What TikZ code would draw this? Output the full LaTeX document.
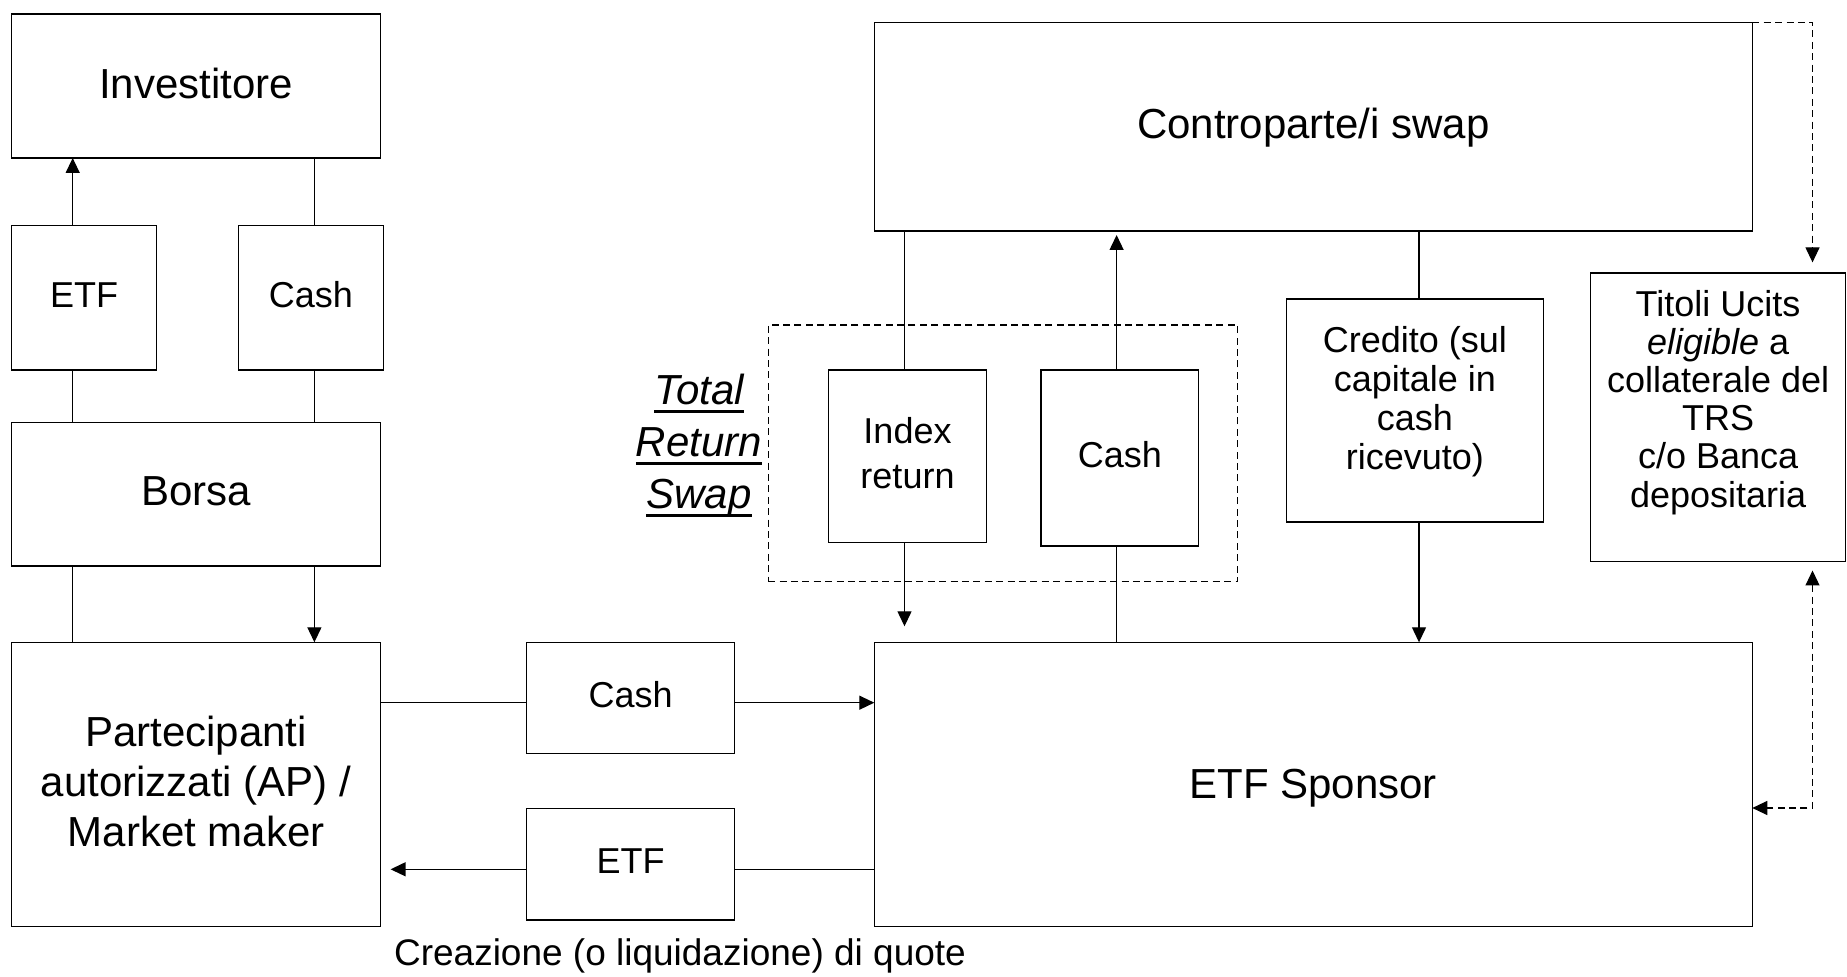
\documentclass[tikz,border=0pt]{standalone}
\usepackage{fontspec}
\setmainfont{Liberation Sans}
\usetikzlibrary{arrows.meta,fit}
\newcommand{\fbig}{\fontsize{21}{25}\selectfont}
\newcommand{\fmid}{\fontsize{18}{22.5}\selectfont}
\newcommand{\fsm}{\fontsize{18}{19.5}\selectfont}
\newcommand{\ftit}{\fontsize{18}{19.1}\selectfont}
\newcommand{\myul}[1]{\setbox0\hbox{#1}\rlap{\rule[-4.2pt]{\wd0}{1.6pt}}\box0}
\begin{document}
\begin{tikzpicture}[x=0.5pt,y=-0.5pt,
  box/.style={draw, line width=0.65pt, inner sep=0pt, outer sep=0pt},
  txt/.style={inner sep=0pt, align=center, yshift=1.5pt},
  dbox/.style={draw, line width=0.6pt, dash pattern=on 3.5pt off 2.2pt, inner sep=0pt, outer sep=0pt},
  ln/.style={draw, line width=0.65pt},
  arr/.style={ln, -{Triangle[length=7.5pt,width=7pt]}},
  darr/.style={draw, line width=0.6pt, dash pattern=on 3.5pt off 2.2pt}]
\useasboundingbox (0,0) rectangle (1847,977);

% lanes
\coordinate (xA) at (72.7,0);
\coordinate (xB) at (314.4,0);
\coordinate (yC) at (0,702.7);
\coordinate (yE) at (0,869.3);
\coordinate (xI) at (904.5,0);
\coordinate (xT) at (1116.6,0);
\coordinate (xK) at (1419,0);
\coordinate (xD) at (1812.5,0);
\coordinate (yD) at (0,808);

% boxes
\node[box, fit={(11.7,14) (380.7,158)}] (inv) {};
\node[box, fit={(11.7,225.7) (156.7,370)}] (etf1) {};
\node[box, fit={(238.7,225.7) (383.3,370)}] (cash1) {};
\node[box, fit={(11.7,422.3) (380.5,566)}] (borsa) {};
\node[box, fit={(11.5,642.3) (380.6,926.7)}] (ap) {};
\node[box, fit={(526.4,642.3) (734.8,753.7)}] (cashm) {};
\node[box, fit={(526.4,808.3) (734.8,920)}] (etfm) {};
\node[box, fit={(874.3,642.3) (1752.3,926.7)}] (spon) {};
\node[box, fit={(874.3,22.3) (1752.3,231)}] (contro) {};
\node[dbox, fit={(768.1,325) (1237.8,581.7)}] (trs) {};
\node[box, fit={(828.8,370) (986.2,542.7)}] (idx) {};
\node[box, fit={(1040.9,370) (1198.7,546)}] (cashT) {};
\node[box, fit={(1286.2,299) (1543.4,522)}] (cred) {};
\node[box, fit={(1590.6,273) (1845.5,561.5)}] (tit) {};

% box texts
\node[txt, font=\fbig] (invT) at (inv.center) {Investitore};
\node[txt, font=\fmid] (etf1T) at (etf1.center) {ETF};
\node[txt, font=\fmid] (cash1T) at (cash1.center) {Cash};
\node[txt, font=\fbig] (borsaT) at (borsa.center) {Borsa};
\node[txt, font=\fbig] (apT) at (ap.center) {Partecipanti\\autorizzati (AP) /\\Market maker};
\node[txt, font=\fmid] (cashmT) at (cashm.center) {Cash};
\node[txt, font=\fmid] (etfmT) at (etfm.center) {ETF};
\node[txt, font=\fbig, yshift=-3.5pt] (sponT) at (spon.center) {ETF Sponsor};
\node[txt, font=\fbig, yshift=-1.8pt] (controT) at (contro.center) {Controparte/i swap};
\node[txt, font=\fmid] (idxT) at (idx.center) {Index\\return};
\node[txt, font=\fmid] (cashTT) at (cashT.center) {Cash};
\node[txt, font=\fsm, yshift=2.7pt] (credT) at (cred.center) {Credito (sul\\capitale in\\cash\\ricevuto)};
\node[txt, font=\ftit, yshift=6pt] (titT) at (tit.center) {Titoli Ucits\\\textit{eligible} a\\collaterale del\\TRS\\c/o Banca\\depositaria};

% labels
\node[font=\fontsize{21}{26}\selectfont\itshape, align=center, inner sep=0pt] (trsl) at (699,446) {\myul{Total}\\\myul{Return}\\\myul{Swap}};
\node[font=\fontsize{18.5}{22}\selectfont, inner sep=0pt] (crea) at (680,956) {Creazione (o liquidazione) di quote};

% connectors left
\draw[arr] (etf1.north -| xA) -- (inv.south -| xA);
\draw[ln] (cash1.north -| xB) -- (inv.south -| xB);
\draw[ln] (etf1.south -| xA) -- (borsa.north -| xA);
\draw[ln] (cash1.south -| xB) -- (borsa.north -| xB);
\draw[ln] (borsa.south -| xA) -- (ap.north -| xA);
\draw[arr] (borsa.south -| xB) -- (ap.north -| xB);

% creation / redemption
\draw[ln] (ap.east |- yC) -- (cashm.west |- yC);
\draw[arr] (cashm.east |- yC) -- (spon.west |- yC);
\draw[ln] (spon.west |- yE) -- (etfm.east |- yE);
\draw[arr, shorten >=5pt] (etfm.west |- yE) -- (ap.east |- yE);

% swap
\draw[ln] (contro.south -| xI) -- (idx.north -| xI);
\draw[arr, shorten >=8pt] (idx.south -| xI) -- (spon.north -| xI);
\draw[ln] (spon.north -| xT) -- (cashT.south -| xT);
\draw[arr, shorten >=2pt] (cashT.north -| xT) -- (contro.south -| xT);
\draw[ln] (contro.south -| xK) -- (cred.north -| xK);
\draw[arr] (cred.south -| xK) -- (spon.north -| xK);

% collateral (dashed)
\draw[darr, -{Triangle[length=7.5pt,width=7pt]}, shorten >=5.3pt] (contro.north east) -| (tit.north -| xD);
\draw[darr, {Triangle[length=7.5pt,width=7pt]}-{Triangle[length=7.5pt,width=7pt]}, shorten <=4.5pt] (tit.south -| xD) |- (spon.east |- yD);
\end{tikzpicture}
\end{document}
